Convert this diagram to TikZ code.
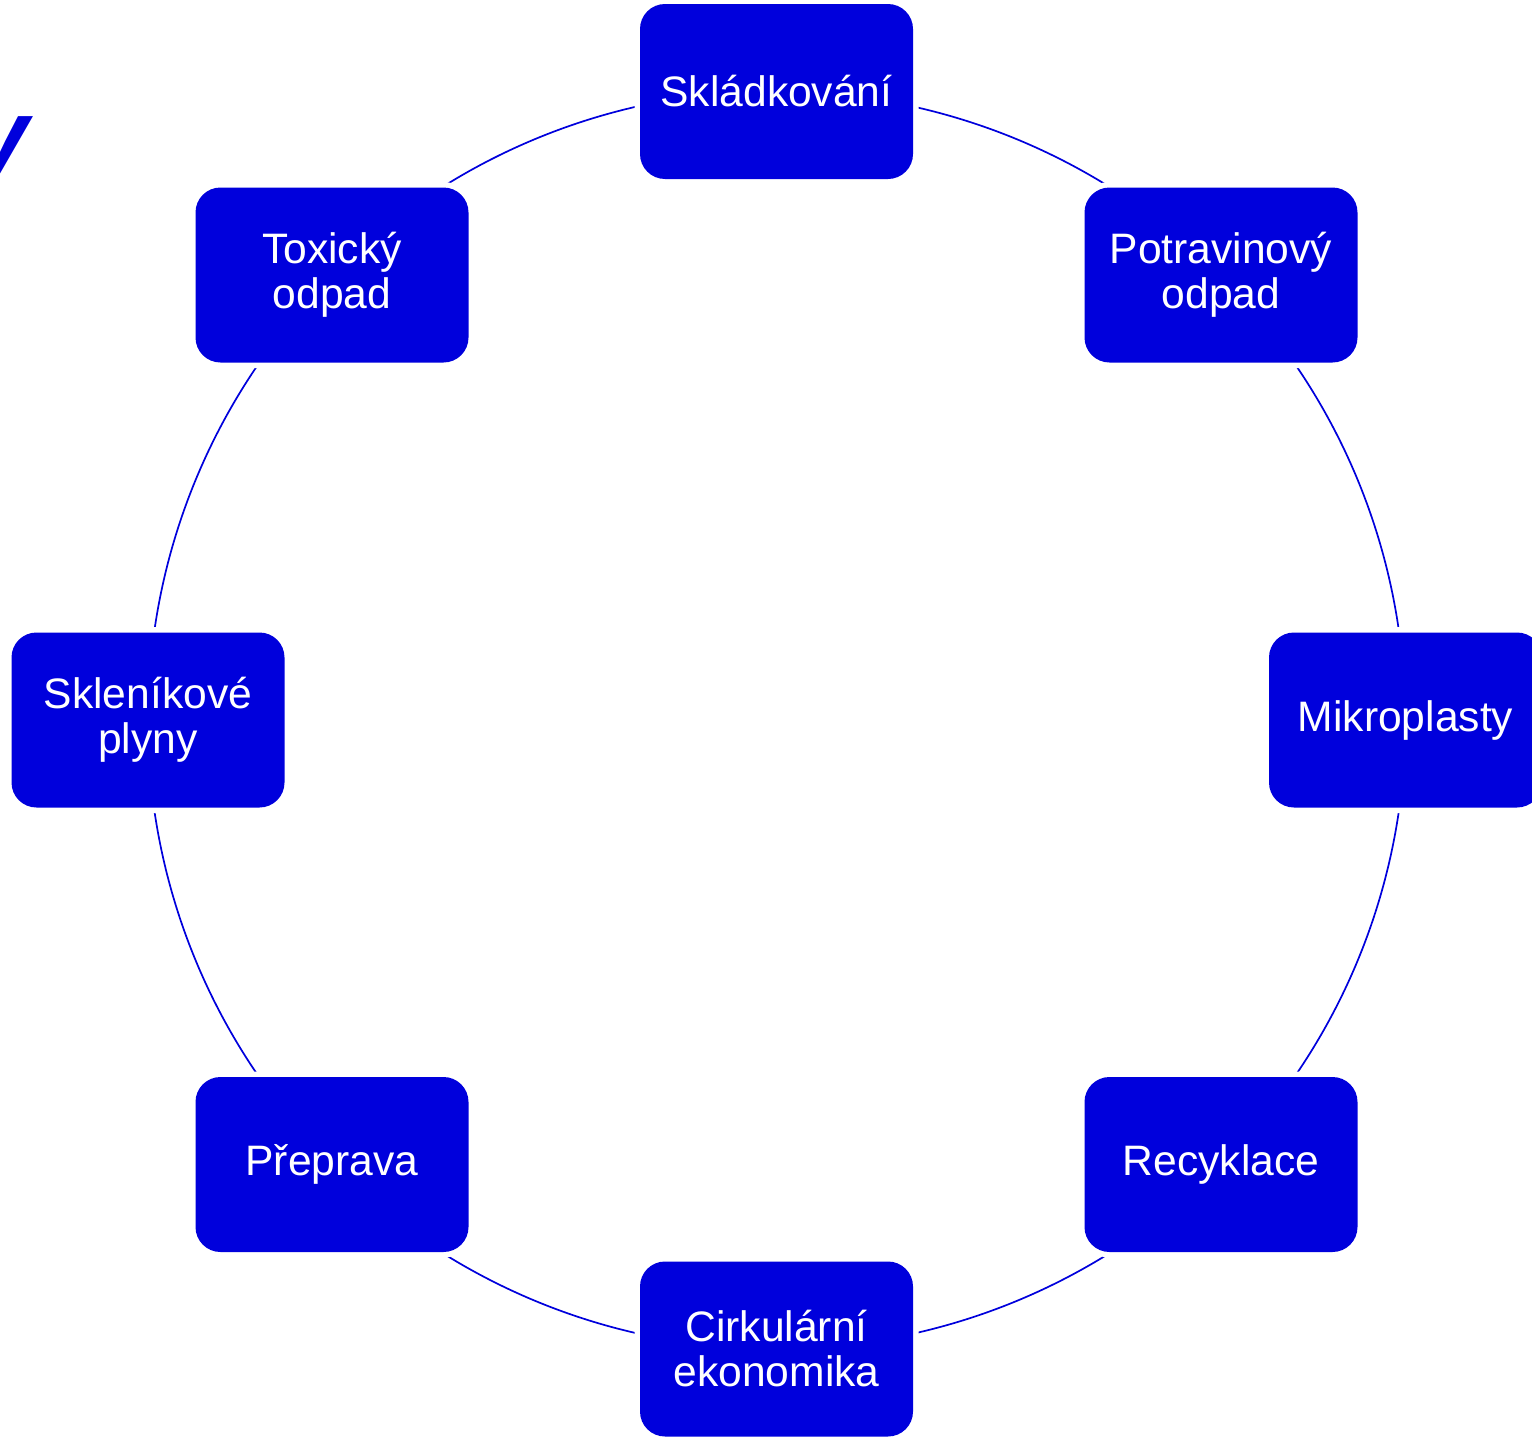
\documentclass[tikz,border=0pt]{standalone}
\usepackage{fontspec}
\setmainfont{Liberation Sans}
\usetikzlibrary{backgrounds}
\definecolor{cyc}{RGB}{0,0,220}
\begin{document}
\begin{tikzpicture}[x=0.5pt,y=-0.5pt,
  cbox/.style={fill=cyc, text=white, rounded corners=12.5pt,
    minimum width=136.5pt, minimum height=87.5pt, inner sep=0pt,
    align=center, font=\fontsize{21.3}{22.5}\selectfont,
    preaction={draw=white, line width=5.5pt}},
  ring/.style={draw=cyc, line width=0.85pt}]
\useasboundingbox (0,0) rectangle (1532,1440);
\node[anchor=base east, inner sep=0pt, text=cyc, font=\fontsize{51}{60}\selectfont\bfseries\itshape] (title) at (30,170) {y};
\node[cbox] (n1) at (776.5,91.5) {Skládkování};
\node[cbox] (n2) at (1221,275) {Potravinový\\odpad};
\node[cbox] (n3) at (1405.5,720) {Mikroplasty};
\node[cbox] (n4) at (1221,1164.5) {Recyklace};
\node[cbox] (n5) at (776.5,1349) {Cirkulární\\ekonomika};
\node[cbox] (n6) at (332,1164.5) {Přeprava};
\node[cbox] (n7) at (148,720) {Skleníkové\\plyny};
\node[cbox] (n8) at (332,275) {Toxický\\odpad};
\begin{scope}[on background layer]
\draw[ring] (n1.center) arc[start angle=90, end angle=45, radius=314.5pt];
\draw[ring] (n2.center) arc[start angle=45, end angle=0, radius=314.5pt];
\draw[ring] (n3.center) arc[start angle=0, end angle=-45, radius=314.5pt];
\draw[ring] (n4.center) arc[start angle=-45, end angle=-90, radius=314.5pt];
\draw[ring] (n5.center) arc[start angle=-90, end angle=-135, radius=314.5pt];
\draw[ring] (n6.center) arc[start angle=-135, end angle=-180, radius=314.5pt];
\draw[ring] (n7.center) arc[start angle=180, end angle=135, radius=314.5pt];
\draw[ring] (n8.center) arc[start angle=135, end angle=90, radius=314.5pt];
\end{scope}
\end{tikzpicture}
\end{document}
